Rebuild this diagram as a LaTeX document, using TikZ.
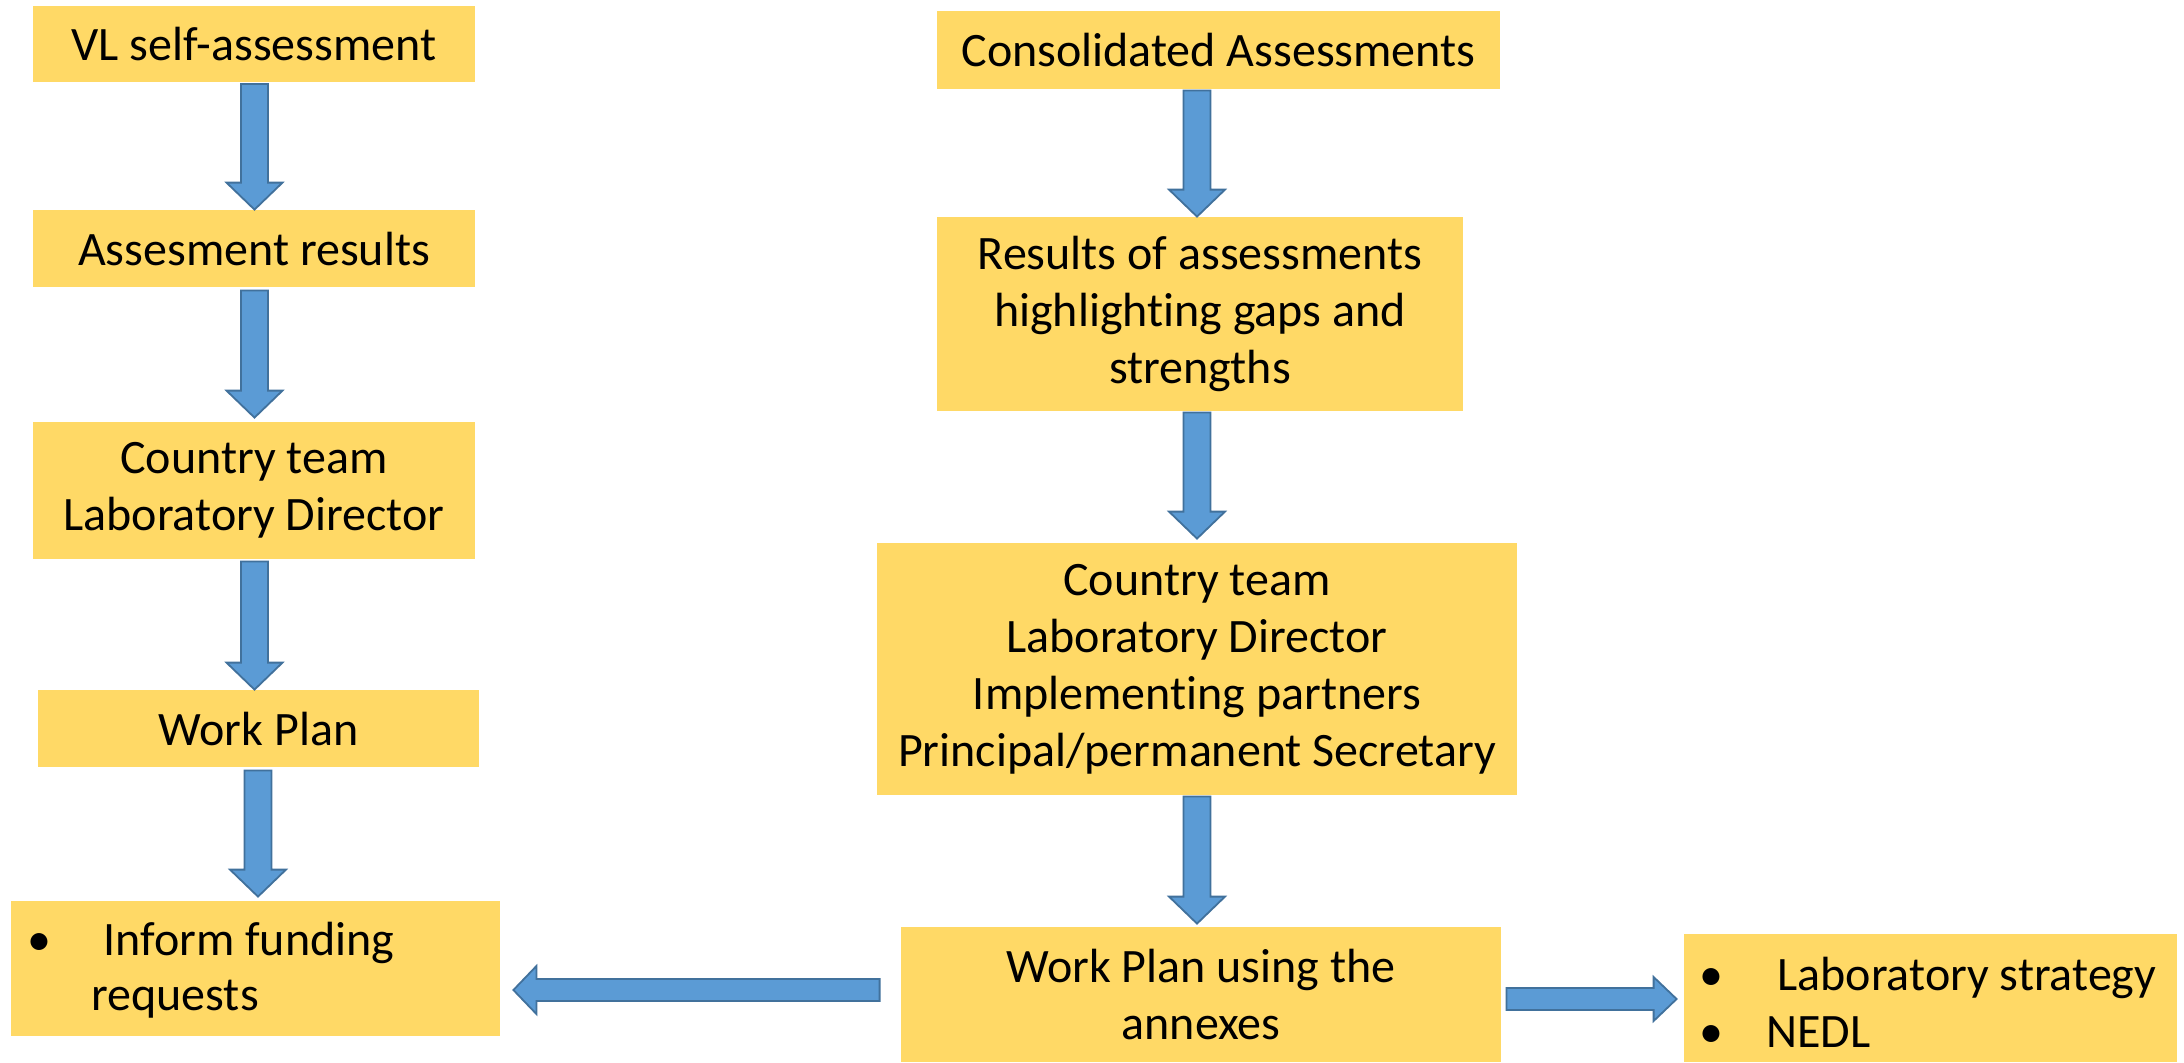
\documentclass[tikz,border=0pt]{standalone}
\usepackage{fontspec}
\setmainfont{Carlito}[Ligatures=NoCommon]
\usetikzlibrary{calc}
\definecolor{boxfill}{HTML}{FFD966}
\definecolor{arrfill}{HTML}{5B9BD5}
\definecolor{arrline}{HTML}{41719C}
\newcommand\blkdown[2]{\path[blk] let \p1=(#1), \p2=(#2) in
  (\x1-6.75pt,\y1) -- (\x1+6.75pt,\y1) -- (\x1+6.75pt,\y2+13.5pt) -- (\x1+14pt,\y2+13.5pt)
  -- (\x1,\y2) -- (\x1-14pt,\y2+13.5pt) -- (\x1-6.75pt,\y2+13.5pt) -- cycle;}
\newcommand\blkleft[2]{\path[blk] let \p1=(#1), \p2=(#2) in
  (\x1,\y1+5.5pt) -- (\x2+11.5pt,\y1+5.5pt) -- (\x2+11.5pt,\y1+12pt) -- (\x2,\y1)
  -- (\x2+11.5pt,\y1-12pt) -- (\x2+11.5pt,\y1-5.5pt) -- (\x1,\y1-5.5pt) -- cycle;}
\newcommand\blkright[2]{\path[blk] let \p1=(#1), \p2=(#2) in
  (\x1,\y1+5.5pt) -- (\x2-11.5pt,\y1+5.5pt) -- (\x2-11.5pt,\y1+11pt) -- (\x2,\y1)
  -- (\x2-11.5pt,\y1-11pt) -- (\x2-11.5pt,\y1-5.5pt) -- (\x1,\y1-5.5pt) -- cycle;}
\begin{document}
\begin{tikzpicture}[x=0.5pt,y=-0.5pt,
  box/.style={fill=boxfill, inner sep=0pt, align=center, font=\fontsize{24}{28.5}\selectfont},
  txt/.style={inner sep=0pt, font=\fontsize{24}{28.5}\selectfont},
  blk/.style={fill=arrfill, draw=arrline, line width=0.9pt, line join=miter}]
\fill[white] (0,0) rectangle (2184,1062);
\useasboundingbox (0,0) rectangle (2184,1062);

% left column
\node[box, minimum width=221pt, minimum height=38pt] (b1) at (254,44) {VL self-assessment};
\node[box, minimum width=221pt, minimum height=38.5pt] (b2) at (254,248.5) {Assesment results};
\node[box, minimum width=221pt, minimum height=68.5pt] (b3) at (254,490.5) {Country team\\Laboratory Director};
\node[box, minimum width=220.5pt, minimum height=38.5pt] (b4) at (258.5,728.5) {Work Plan};
\node[box, minimum width=244.5pt, minimum height=67.5pt] (b5) at (255.5,968.5) {};
\node[txt, anchor=base] (b5d1) at (39,955) {•};
\node[txt, anchor=base west] (b5t1) at (103,955) {Inform funding};
\node[txt, anchor=base west] (b5t2) at (91,1010) {requests};

% right column
\node[box, minimum width=281.5pt, minimum height=39pt] (b6) at (1218.5,50) {Consolidated Assessments};
\node[box, minimum width=263pt, minimum height=97pt] (b7) at (1200,314) {Results of assessments\\highlighting gaps and\\strengths};
\node[box, minimum width=320pt, minimum height=126pt] (b8) at (1197,669) {Country team\\Laboratory Director\\Implementing partners\\Principal/permanent Secretary};
\node[box, minimum width=300pt, minimum height=67.5pt] (b9) at (1201,994.5) {Work Plan using the\\annexes};
\node[box, minimum width=246.5pt, minimum height=64pt] (b10) at (1930.5,998) {};
\node[txt, anchor=base] (b10d1) at (1711,990) {•};
\node[txt, anchor=base west] (b10t1) at (1777,990) {Laboratory strategy};
\node[txt, anchor=base] (b10d2) at (1711,1047) {•};
\node[txt, anchor=base west] (b10t2) at (1766,1047) {NEDL};

% arrow guides
\coordinate (xa) at (254.5,0);
\coordinate (xb) at (258,0);
\coordinate (xc) at (1197,0);
\coordinate (yl) at (0,990);
\coordinate (yr) at (0,999);

\blkdown{$(b1.south -| xa)+(0,1.5)$}{b2.north -| xa}
\blkdown{$(b2.south -| xa)+(0,3)$}{$(b3.north -| xa)+(0,-4)$}
\blkdown{$(b3.south -| xa)+(0,2)$}{b4.north -| xa}
\blkdown{$(b4.south -| xb)+(0,3)$}{$(b5.north -| xb)+(0,-4)$}
\blkdown{$(b6.south -| xc)+(0,1)$}{b7.north -| xc}
\blkdown{$(b7.south -| xc)+(0,1)$}{$(b8.north -| xc)+(0,-4)$}
\blkdown{$(b8.south -| xc)+(0,1)$}{$(b9.north -| xc)+(0,-3)$}
\blkleft{$(b9.west |- yl)+(-21,0)$}{$(b5.east |- yl)+(13,0)$}
\blkright{$(b9.east |- yr)+(5,0)$}{$(b10.west |- yr)+(-7,0)$}
\end{tikzpicture}
\end{document}
